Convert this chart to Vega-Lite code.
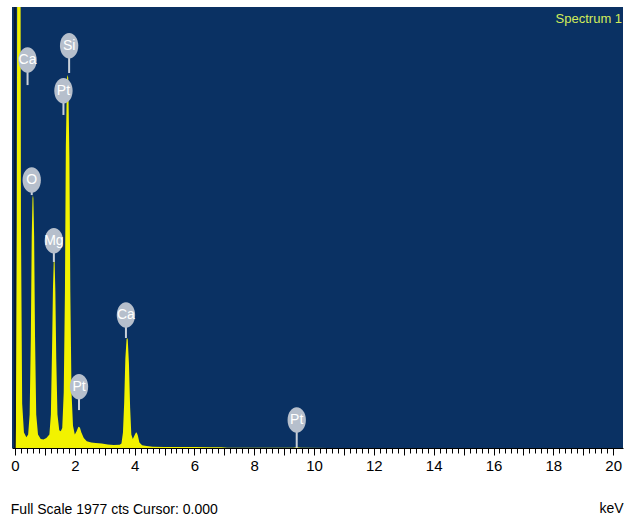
{
  "$schema": "https://vega.github.io/schema/vega-lite/v6.json",
  "width": 611,
  "height": 441,
  "autosize": {"type": "none"},
  "padding": {"left": 12, "top": 7, "right": 3, "bottom": 74},
  "background": "#ffffff",
  "config": {
    "view": {"fill": "#0a3163", "stroke": null},
    "font": "Liberation Sans, Arial, sans-serif"
  },
  "title": {
    "text": "Full Scale 1977 cts Cursor: 0.000",
    "orient": "bottom",
    "anchor": "start",
    "fontSize": 14,
    "fontWeight": "normal",
    "color": "#000000",
    "font": "Liberation Sans, Arial, sans-serif",
    "offset": 0,
    "dy": -12
  },
  "datasets": {
    "spectrum": [
      {"keV": -0.1, "counts": 0},
      {"keV": 0.0, "counts": 0},
      {"keV": 0.03, "counts": 100},
      {"keV": 0.06, "counts": 1000},
      {"keV": 0.08, "counts": 2600},
      {"keV": 0.18, "counts": 2600},
      {"keV": 0.20, "counts": 1000},
      {"keV": 0.24, "counts": 200},
      {"keV": 0.30, "counts": 70},
      {"keV": 0.38, "counts": 48},
      {"keV": 0.44, "counts": 60},
      {"keV": 0.49, "counts": 150},
      {"keV": 0.53, "counts": 500},
      {"keV": 0.56, "counts": 950},
      {"keV": 0.585, "counts": 1120},
      {"keV": 0.60, "counts": 1134},
      {"keV": 0.615, "counts": 1120},
      {"keV": 0.64, "counts": 950},
      {"keV": 0.67, "counts": 500},
      {"keV": 0.71, "counts": 150},
      {"keV": 0.77, "counts": 60},
      {"keV": 0.86, "counts": 40},
      {"keV": 0.95, "counts": 38},
      {"keV": 1.05, "counts": 45},
      {"keV": 1.15, "counts": 60},
      {"keV": 1.20, "counts": 150},
      {"keV": 1.24, "counts": 450},
      {"keV": 1.27, "counts": 720},
      {"keV": 1.295, "counts": 835},
      {"keV": 1.31, "counts": 843},
      {"keV": 1.325, "counts": 835},
      {"keV": 1.35, "counts": 700},
      {"keV": 1.38, "counts": 400},
      {"keV": 1.42, "counts": 150},
      {"keV": 1.48, "counts": 80},
      {"keV": 1.53, "counts": 75},
      {"keV": 1.58, "counts": 90},
      {"keV": 1.63, "counts": 250},
      {"keV": 1.67, "counts": 700},
      {"keV": 1.70, "counts": 1350},
      {"keV": 1.74, "counts": 1660},
      {"keV": 1.76, "counts": 1672},
      {"keV": 1.78, "counts": 1660},
      {"keV": 1.82, "counts": 1300},
      {"keV": 1.85, "counts": 700},
      {"keV": 1.89, "counts": 250},
      {"keV": 1.94, "counts": 100},
      {"keV": 2.00, "counts": 60},
      {"keV": 2.06, "counts": 75},
      {"keV": 2.12, "counts": 95},
      {"keV": 2.17, "counts": 92},
      {"keV": 2.22, "counts": 70},
      {"keV": 2.30, "counts": 45},
      {"keV": 2.40, "counts": 30},
      {"keV": 2.55, "counts": 25},
      {"keV": 2.7, "counts": 22},
      {"keV": 2.9, "counts": 20},
      {"keV": 3.1, "counts": 16},
      {"keV": 3.3, "counts": 14},
      {"keV": 3.5, "counts": 15},
      {"keV": 3.56, "counts": 20},
      {"keV": 3.61, "counts": 70},
      {"keV": 3.65, "counts": 200},
      {"keV": 3.69, "counts": 400},
      {"keV": 3.73, "counts": 488},
      {"keV": 3.75, "counts": 493},
      {"keV": 3.77, "counts": 488},
      {"keV": 3.81, "counts": 380},
      {"keV": 3.85, "counts": 180},
      {"keV": 3.89, "counts": 60},
      {"keV": 3.94, "counts": 40},
      {"keV": 3.99, "counts": 55},
      {"keV": 4.04, "counts": 68},
      {"keV": 4.07, "counts": 69},
      {"keV": 4.11, "counts": 55},
      {"keV": 4.16, "counts": 25},
      {"keV": 4.25, "counts": 12},
      {"keV": 4.4, "counts": 9},
      {"keV": 4.6, "counts": 6},
      {"keV": 5.0, "counts": 5},
      {"keV": 5.5, "counts": 4},
      {"keV": 6.0, "counts": 4},
      {"keV": 6.5, "counts": 3},
      {"keV": 6.9, "counts": 3},
      {"keV": 7.1, "counts": 1},
      {"keV": 8.0, "counts": 1},
      {"keV": 9.3, "counts": 1},
      {"keV": 9.42, "counts": 3},
      {"keV": 9.55, "counts": 1},
      {"keV": 10.5, "counts": 0},
      {"keV": 20.33, "counts": 0}
    ],
    "peaks": [
      {"element": "Ca", "keV": 0.42, "labelCounts": 1739, "stemEnd": 1627},
      {"element": "Si", "keV": 1.81, "labelCounts": 1803, "stemEnd": 1681},
      {"element": "Pt", "keV": 1.62, "labelCounts": 1602, "stemEnd": 1493},
      {"element": "O", "keV": 0.56, "labelCounts": 1201, "stemEnd": 1134},
      {"element": "Mg", "keV": 1.30, "labelCounts": 929, "stemEnd": 834},
      {"element": "Ca", "keV": 3.71, "labelCounts": 596, "stemEnd": 493},
      {"element": "Pt", "keV": 2.14, "labelCounts": 275, "stemEnd": 170},
      {"element": "Pt", "keV": 9.42, "labelCounts": 126, "stemEnd": 0}
    ],
    "caption": [
      {"keV": 20.3, "counts": 1923, "text": "Spectrum 1"}
    ]
  },
  "layer": [
    {
      "data": {"name": "spectrum"},
      "mark": {"type": "area", "color": "#f2f200", "interpolate": "linear", "clip": true},
      "encoding": {
        "x": {
          "field": "keV",
          "type": "quantitative",
          "scale": {"domain": [-0.1, 20.33], "nice": false, "zero": false},
          "axis": {
            "values": [0, 0.2, 0.4, 0.6, 0.8, 1, 1.2, 1.4, 1.6, 1.8, 2, 2.2, 2.4, 2.6, 2.8, 3, 3.2, 3.4, 3.6, 3.8, 4, 4.2, 4.4, 4.6, 4.8, 5, 5.2, 5.4, 5.6, 5.8, 6, 6.2, 6.4, 6.6, 6.8, 7, 7.2, 7.4, 7.6, 7.8, 8, 8.2, 8.4, 8.6, 8.8, 9, 9.2, 9.4, 9.6, 9.8, 10, 10.2, 10.4, 10.6, 10.8, 11, 11.2, 11.4, 11.6, 11.8, 12, 12.2, 12.4, 12.6, 12.8, 13, 13.2, 13.4, 13.6, 13.8, 14, 14.2, 14.4, 14.6, 14.8, 15, 15.2, 15.4, 15.6, 15.8, 16, 16.2, 16.4, 16.6, 16.8, 17, 17.2, 17.4, 17.6, 17.8, 18, 18.2, 18.4, 18.6, 18.8, 19, 19.2, 19.4, 19.6, 19.8, 20],
            "tickCount": 500,
            "labelExpr": "datum.value % 2 === 0 ? format(datum.value, 'd') : ''",
            "labelOverlap": false,
            "labelFontSize": 15,
            "labelColor": "#000000",
            "labelPadding": 3,
            "domainColor": "#000000",
            "tickColor": "#000000",
            "tickSize": {"condition": {"test": "datum.value % 1 === 0", "value": 7}, "value": 5},
            "grid": false,
            "title": "keV",
            "titleAnchor": "end",
            "titleFontSize": 14,
            "titleFontWeight": "normal",
            "titleColor": "#000000",
            "titlePadding": 28
          }
        },
        "y": {
          "field": "counts",
          "type": "quantitative",
          "scale": {"domain": [0, 1977], "nice": false},
          "axis": null
        }
      }
    },
    {
      "data": {"values": [{"keV": 0}]},
      "mark": {"type": "rule", "color": "#0a1626", "strokeWidth": 1.5},
      "encoding": {"x": {"field": "keV", "type": "quantitative"}}
    },
    {
      "data": {"name": "peaks"},
      "mark": {"type": "rule", "color": "#c9d0da", "strokeWidth": 2},
      "encoding": {
        "x": {"field": "keV", "type": "quantitative"},
        "y": {"field": "labelCounts", "type": "quantitative"},
        "y2": {"field": "stemEnd"}
      }
    },
    {
      "data": {"name": "peaks"},
      "mark": {
        "type": "point",
        "shape": "M -0.72 0 A 0.72 1 0 1 0 0.72 0 A 0.72 1 0 1 0 -0.72 0 Z",
        "filled": true,
        "color": "#b6bfcc",
        "opacity": 1,
        "size": 650
      },
      "encoding": {
        "x": {"field": "keV", "type": "quantitative"},
        "y": {"field": "labelCounts", "type": "quantitative"}
      }
    },
    {
      "data": {"name": "peaks"},
      "mark": {"type": "text", "color": "#ffffff", "fontSize": 14, "align": "center", "baseline": "middle"},
      "encoding": {
        "x": {"field": "keV", "type": "quantitative"},
        "y": {"field": "labelCounts", "type": "quantitative"},
        "text": {"field": "element"}
      }
    },
    {
      "data": {"name": "caption"},
      "mark": {"type": "text", "color": "#d2ec5a", "fontSize": 13, "align": "right", "baseline": "middle"},
      "encoding": {
        "x": {"field": "keV", "type": "quantitative"},
        "y": {"field": "counts", "type": "quantitative"},
        "text": {"field": "text"}
      }
    }
  ]
}
